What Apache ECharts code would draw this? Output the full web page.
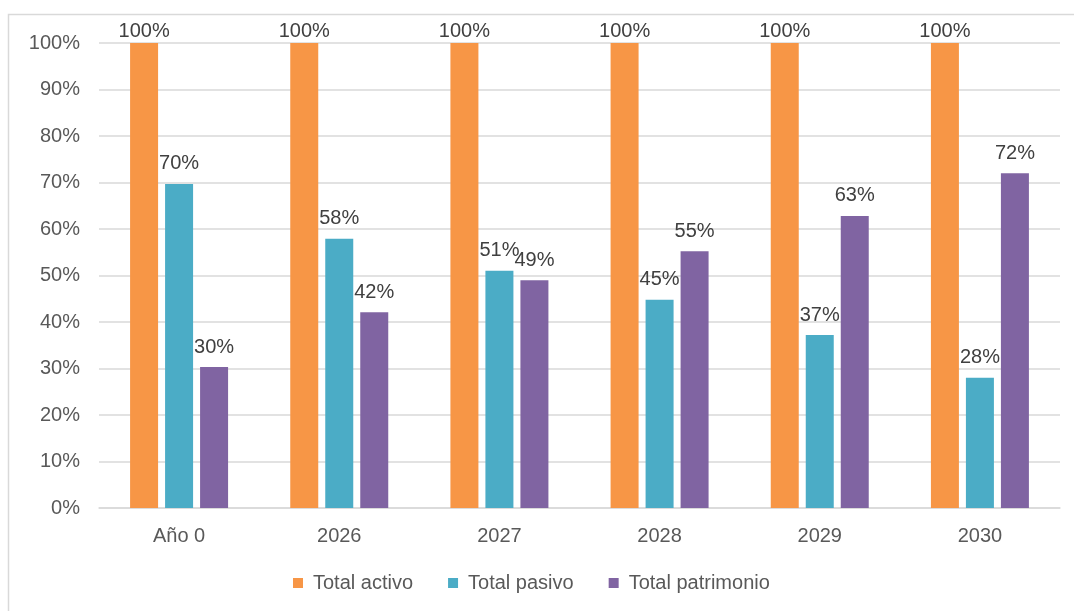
<!DOCTYPE html>
<html>
<head>
<meta charset="utf-8">
<script src="https://cdn.jsdelivr.net/npm/echarts@6/dist/echarts.min.js"></script>
<style>
html,body{margin:0;padding:0;background:#fff;}
#c{width:1074px;height:611px;}
</style>
</head>
<body>
<div id="c"></div>
<script>
const categories = ['Año 0', '2026', '2027', '2028', '2029', '2030'];
const totalActivo = [100, 100, 100, 100, 100, 100];
const totalPasivo = [69.7, 57.9, 51.0, 44.8, 37.2, 28.0];
const totalPatrimonio = [30.3, 42.1, 49.0, 55.2, 62.8, 72.0];
const seriesNames = ['Total activo', 'Total pasivo', 'Total patrimonio'];
const colors = ['#F79646', '#4BACC6', '#8064A2'];

const font = 'Liberation Sans, Arial, sans-serif';
const chart = echarts.init(document.getElementById('c'), null, {renderer: 'canvas'});

function mk(name, data, color, dist) {
  return {
    name: name,
    type: 'bar',
    data: data,
    barWidth: 28,
    barGap: '25%',
    itemStyle: {color: color},
    label: {
      show: true,
      position: 'top',
      distance: dist,
      formatter: p => Math.round(p.value) + '%',
      color: '#404040',
      fontSize: 20,
      fontFamily: font
    }
  };
}

chart.setOption({
  animation: false,
  backgroundColor: '#fff',
  color: colors,
  graphic: [{
    type: 'rect',
    shape: {x: 8.5, y: 14.5, width: 1200, height: 800},
    style: {fill: 'none', stroke: '#d9d9d9', lineWidth: 1.5},
    silent: true,
    z: -10
  }],
  grid: {left: 99, right: 14, top: 43, bottom: 103, containLabel: false},
  legend: {
    data: seriesNames,
    bottom: 13,
    left: 288,
    icon: 'rect',
    itemWidth: 10,
    itemHeight: 10,
    itemGap: 35,
    textStyle: {color: '#595959', fontSize: 20, fontFamily: font, padding: [0, 0, 0, 5]}
  },
  xAxis: {
    type: 'category',
    data: categories,
    axisLine: {show: true, lineStyle: {color: '#d9d9d9', width: 1.5}},
    axisTick: {show: false},
    axisLabel: {color: '#595959', fontSize: 20, fontFamily: font, margin: 18}
  },
  yAxis: {
    type: 'value',
    min: 0,
    max: 100,
    interval: 10,
    axisLine: {show: false},
    axisTick: {show: false},
    splitLine: {lineStyle: {color: '#d9d9d9', width: 1.5}},
    axisLabel: {color: '#595959', fontSize: 20, fontFamily: font, margin: 19, formatter: '{value}%'}
  },
  series: [
    mk(seriesNames[0], totalActivo, colors[0], 2),
    mk(seriesNames[1], totalPasivo, colors[1], 10),
    mk(seriesNames[2], totalPatrimonio, colors[2], 10)
  ]
});
</script>
</body>
</html>
